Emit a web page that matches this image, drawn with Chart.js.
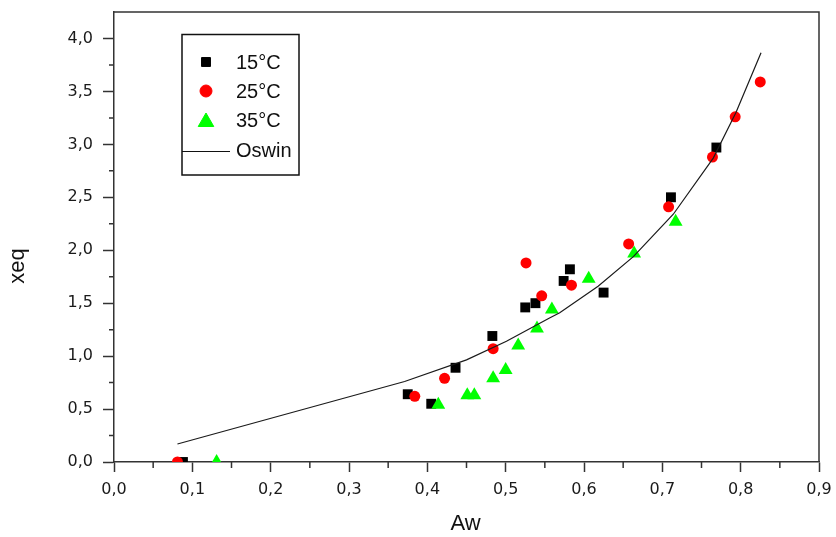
<!DOCTYPE html>
<html>
<head>
<meta charset="utf-8">
<script src="https://cdn.jsdelivr.net/npm/chart.js@4.4.0/dist/chart.umd.min.js"></script>
<style>
html,body{margin:0;padding:0;background:#fff;}
#wrap{position:relative;width:836px;height:537px;}
canvas{display:block;}
</style>
</head>
<body>
<div id="wrap"><canvas id="c" width="836" height="537" style="width:836px;height:537px"></canvas></div>
<script>
// ---- Data ----
const awTicks = [0, 0.1, 0.2, 0.3, 0.4, 0.5, 0.6, 0.7, 0.8, 0.9];
const awTickLabels = ['0,0','0,1','0,2','0,3','0,4','0,5','0,6','0,7','0,8','0,9'];
const xeqTicks = [0, 0.5, 1, 1.5, 2, 2.5, 3, 3.5, 4];
const xeqTickLabels = ['0,0','0,5','1,0','1,5','2,0','2,5','3,0','3,5','4,0'];

const seriesNames = ['15°C', '25°C', '35°C', 'Oswin'];

const aw15  = [0.088, 0.375, 0.405, 0.436, 0.483, 0.525, 0.538, 0.574, 0.582, 0.625, 0.711, 0.769];
const xeq15 = [0.00,  0.64,  0.55,  0.89,  1.19,  1.46,  1.50,  1.71,  1.82,  1.60,  2.50,  2.97];

const aw25  = [0.081, 0.384, 0.422, 0.484, 0.526, 0.546, 0.584, 0.657, 0.708, 0.764, 0.793, 0.825];
const xeq25 = [0.00,  0.62,  0.79,  1.07,  1.88,  1.57,  1.67,  2.06,  2.41,  2.88,  3.26,  3.59];

const aw35  = [0.131, 0.414, 0.451, 0.460, 0.484, 0.500, 0.516, 0.540, 0.559, 0.606, 0.664, 0.717];
const xeq35 = [0.00,  0.54,  0.63,  0.63,  0.79,  0.87,  1.10,  1.26,  1.44,  1.73,  1.97,  2.27];

const awOswin  = [0.081, 0.371, 0.450, 0.501, 0.556, 0.569, 0.618, 0.663, 0.714, 0.765, 0.794, 0.826];
const xeqOswin = [0.17,  0.76,  0.965, 1.14,  1.36,  1.41,  1.66,  1.94,  2.34,  2.87,  3.30,  3.865];

const toPts = (xs, ys) => xs.map((x, i) => ({ x: x, y: ys[i] }));

// ---- Plugins ----
const AXIS_COLOR = '#333';
const TITLE_FONT = '22px "Liberation Sans", Arial, sans-serif';

const framePlugin = {
  id: 'frame',
  afterDraw(chart) {
    const { ctx, chartArea: a } = chart;
    ctx.save();
    ctx.strokeStyle = AXIS_COLOR;
    ctx.lineWidth = 1.5;
    ctx.beginPath();
    ctx.moveTo(a.left, a.top);
    ctx.lineTo(a.right, a.top);
    ctx.lineTo(a.right, a.bottom);
    ctx.stroke();
    // minor ticks
    const xs = chart.scales.x, ys = chart.scales.y;
    ctx.lineWidth = 1.5;
    ctx.beginPath();
    for (let i = 0; i < awTicks.length - 1; i++) {
      const px = xs.getPixelForValue((awTicks[i] + awTicks[i + 1]) / 2);
      ctx.moveTo(px, a.bottom);
      ctx.lineTo(px, a.bottom + 6);
    }
    for (let i = 0; i < xeqTicks.length - 1; i++) {
      const py = ys.getPixelForValue((xeqTicks[i] + xeqTicks[i + 1]) / 2);
      ctx.moveTo(a.left, py);
      ctx.lineTo(a.left - 5, py);
    }
    ctx.stroke();
    // axis titles
    ctx.fillStyle = '#111';
    ctx.font = TITLE_FONT;
    ctx.textAlign = 'center';
    ctx.textBaseline = 'middle';
    ctx.fillText('Aw', (a.left + a.right) / 2 - 1, 524);
    ctx.save();
    ctx.translate(18, 266);
    ctx.rotate(-Math.PI / 2);
    ctx.fillText('xeq', 0, 0);
    ctx.restore();
    ctx.restore();
  }
};

const legendPlugin = {
  id: 'boxLegend',
  afterDraw(chart) {
    const { ctx } = chart;
    ctx.save();
    ctx.strokeStyle = '#111';
    ctx.lineWidth = 1.5;
    ctx.strokeRect(182, 34.5, 117, 140.5);
    const helpers = Chart.helpers;
    const rows = [
      { y: 62,  style: 'rect',     r: 6.3, color: '#000000' },
      { y: 91,  style: 'circle',   r: 6,   color: '#ff0000' },
      { y: 122, style: 'triangle', r: 9,   color: '#00ff00' }
    ];
    rows.forEach(rw => {
      ctx.fillStyle = rw.color;
      ctx.strokeStyle = rw.color;
      ctx.lineWidth = 1;
      helpers.drawPoint(ctx, { pointStyle: rw.style, radius: rw.r, rotation: 0, borderWidth: 1 }, 206, rw.y);
    });
    ctx.strokeStyle = '#111';
    ctx.lineWidth = 1.2;
    ctx.beginPath();
    ctx.moveTo(182, 151.5);
    ctx.lineTo(230, 151.5);
    ctx.stroke();
    ctx.fillStyle = '#111';
    ctx.font = '20px "Liberation Sans Narrow", "Arial Narrow", "Liberation Sans", sans-serif';
    ctx.textAlign = 'left';
    ctx.textBaseline = 'middle';
    const ty = [63, 92, 121, 151];
    seriesNames.forEach((n, i) => ctx.fillText(n, 236, ty[i]));
    ctx.restore();
  }
};

Chart.defaults.font.family = '"DejaVu Sans", sans-serif';
Chart.defaults.color = '#1a1a1a';

new Chart(document.getElementById('c'), {
  type: 'scatter',
  data: {
    datasets: [
      { label: seriesNames[0], data: toPts(aw15, xeq15), pointStyle: 'rect', pointRadius: 7,
        backgroundColor: '#000000', borderColor: '#000000', borderWidth: 0, order: 4, clip: 0 },
      { label: seriesNames[1], data: toPts(aw25, xeq25), pointStyle: 'circle', pointRadius: 5.5,
        backgroundColor: '#ff0000', borderColor: '#ff0000', borderWidth: 0, order: 3, clip: 0 },
      { label: seriesNames[2], data: toPts(aw35, xeq35), pointStyle: 'triangle', pointRadius: 8,
        backgroundColor: '#00ff00', borderColor: '#00ff00', borderWidth: 0, order: 2, clip: 0 },
      { label: seriesNames[3], data: toPts(awOswin, xeqOswin), type: 'line', showLine: true,
        pointRadius: 0, borderColor: '#1a1a1a', borderWidth: 1.2, tension: 0, fill: false, order: 1, clip: 0 }
    ]
  },
  options: {
    responsive: false,
    maintainAspectRatio: false,
    animation: false,
    devicePixelRatio: 1,
    layout: { padding: { top: 12, right: 17, left: 0, bottom: 0 } },
    plugins: { legend: { display: false }, tooltip: { enabled: false } },
    scales: {
      x: {
        type: 'linear', min: 0, max: 0.9,
        afterBuildTicks: s => { s.ticks = awTicks.map(v => ({ value: v })); },
        afterFit: s => { s.height = 75; s.paddingLeft = 0; s.paddingRight = 0; },
        ticks: { callback: (v, i) => awTickLabels[i], font: { size: 16 }, padding: 8, maxRotation: 0, autoSkip: false },
        grid: { display: true, drawOnChartArea: false, drawTicks: true, tickLength: 10, tickColor: AXIS_COLOR, tickWidth: 1.5 },
        border: { display: true, color: AXIS_COLOR, width: 1.5 }
      },
      y: {
        type: 'linear', min: 0, max: 4.25,
        afterBuildTicks: s => { s.ticks = xeqTicks.map(v => ({ value: v })); },
        afterFit: s => { s.width = 114; s.paddingTop = 0; s.paddingBottom = 0; },
        ticks: { callback: (v, i) => xeqTickLabels[i], font: { size: 16 }, padding: 10, autoSkip: false },
        grid: { display: true, drawOnChartArea: false, drawTicks: true, tickLength: 11, tickColor: AXIS_COLOR, tickWidth: 1.5 },
        border: { display: true, color: AXIS_COLOR, width: 1.5 }
      }
    }
  },
  plugins: [framePlugin, legendPlugin]
});
</script>
</body>
</html>
